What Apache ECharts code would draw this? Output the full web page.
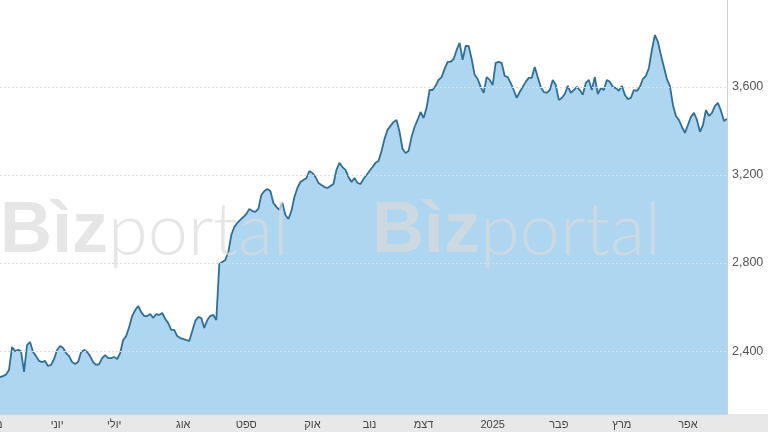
<!DOCTYPE html>
<html>
<head>
<meta charset="utf-8">
<script src="https://cdn.jsdelivr.net/npm/echarts@6/dist/echarts.min.js"></script>
<style>html,body{margin:0;padding:0;background:#fff}#c{width:768px;height:432px}</style>
</head>
<body>
<div id="c"></div>
<script>
// Daily closing values
const values = [
2282,2286,2293,2314,2418,2400,2405,2400,2305,2427,2441,2396,2377,2355,2350,2355,2332,2337,2364,2405,
2423,2414,2391,2377,2350,2341,2350,2396,2405,2396,2377,2350,2337,2341,2368,2382,2368,2368,2373,2364,
2391,2450,2468,2509,2559,2586,2605,2577,2559,2559,2568,2550,2568,2564,2573,2546,2527,2496,2496,2468,
2459,2455,2450,2446,2491,2537,2555,2550,2505,2541,2559,2564,2541,2796,2805,2814,2850,2927,2964,2982,
2996,3009,3023,3046,3036,3032,3046,3109,3127,3136,3127,3073,3055,3041,3073,3018,3000,3036,3100,3141,
3168,3177,3186,3218,3209,3191,3164,3155,3145,3141,3150,3159,3223,3255,3236,3223,3191,3168,3186,3164,
3159,3182,3200,3218,3236,3255,3264,3309,3364,3405,3423,3441,3450,3396,3318,3300,3309,3373,3418,3450,
3486,3459,3505,3586,3586,3605,3632,3645,3682,3714,3714,3727,3768,3800,3723,3786,3786,3727,3655,3636,
3600,3573,3645,3632,3609,3709,3714,3709,3650,3645,3618,3586,3550,3577,3600,3623,3641,3641,3691,3645,
3600,3577,3573,3586,3632,3609,3541,3550,3568,3605,3573,3586,3600,3586,3564,3618,3632,3586,3645,3568,
3595,3586,3632,3623,3600,3595,3582,3605,3564,3545,3550,3586,3582,3600,3636,3650,3686,3768,3836,3805,
3745,3691,3636,3605,3518,3468,3450,3418,3391,3427,3464,3482,3450,3396,3427,3495,3468,3482,3514,3527,
3491,3445,3455
];
const categories = values.map((_, i) => String(i));
// Month tick labels and the data index each one sits at
const monthLabels = ['מאי','יוני','יולי','אוג','ספט','אוק','נוב','דצמ','2025','פבר','מרץ','אפר'];
const monthIdx = [-2, 19, 38, 61, 82, 104, 123, 141, 164, 186, 207, 229];
// Y tick values
const yTicks = [2400, 2800, 3200, 3600];
const yMin = 2114, yMax = 3995;

const chart = echarts.init(document.getElementById('c'), null, {renderer: 'canvas'});
const labelColor = '#444';
const option = {
  animation: false,
  backgroundColor: '#fff',
  grid: {left: 0, right: 41, top: 0, bottom: 18, containLabel: false},
  xAxis: {
    type: 'category', data: categories, boundaryGap: false, z: 3,
    axisLine: {show: true, lineStyle: {color: '#d2d2d2', width: 1}},
    axisTick: {show: false},
    axisLabel: {
      color: labelColor, fontSize: 11, margin: 5, fontFamily: 'Liberation Sans, Arial, sans-serif',
      interval: (i) => monthIdx.indexOf(i) >= 0,
      formatter: (v, i) => { const k = monthIdx.indexOf(i); return k >= 0 ? monthLabels[k] : ''; }
    },
    splitLine: {show: false}
  },
  yAxis: {
    type: 'value', position: 'right', min: yMin, max: yMax, z: 5,
    axisLine: {show: true, lineStyle: {color: '#cfcfcf', width: 1}},
    axisTick: {show: false, customValues: yTicks},
    axisLabel: {
      customValues: yTicks, color: '#555', fontSize: 12.5, margin: 5,
      fontFamily: 'Liberation Sans, Arial, sans-serif',
      formatter: (v) => v.toLocaleString('en-US')
    },
    splitLine: {show: true, lineStyle: {color: '#dcdcdc', type: [2, 2], width: 1}}
  },
  series: [{
    type: 'line', data: values, symbol: 'none', smooth: false, z: 2,
    lineStyle: {color: '#2f6f98', width: 1.8},
    areaStyle: {color: '#afd6f0', opacity: 1}
  }],
  graphic: []
};
chart.setOption(option);

// band behind the x-axis labels + watermark + clipped first month label
const p0 = chart.convertToPixel({xAxisIndex: 0}, 0);
const p1 = chart.convertToPixel({xAxisIndex: 0}, 1);
const step = p1 - p0;
const yBase = chart.convertToPixel({yAxisIndex: 0}, yMin);
const wmFill = 'rgba(218,218,218,0.68)';
const wm = (x) => ({
  type: 'text', x: x, y: 232, z: 100, silent: true,
  style: {
    text: '{a|Bìz}{b|portal}', verticalAlign: 'middle', align: 'left',
    rich: {
      a: {fontSize: 72, fontWeight: 'bold', fontFamily: 'Liberation Sans, Arial, sans-serif', fill: wmFill},
      b: {fontSize: 72, fontWeight: 300, fontFamily: 'Lato, Liberation Sans, Arial, sans-serif', fill: wmFill}
    }
  }
});
chart.setOption({
  graphic: [
    {type: 'rect', z: -10, silent: true, shape: {x: 0, y: yBase, width: 768, height: 432 - yBase}, style: {fill: '#e8e8e8'}},
    wm(0), wm(372),
    {type: 'text', z: 10, silent: true, x: p0 + monthIdx[0] * step, y: yBase + 5,
     style: {text: monthLabels[0], fill: labelColor, fontSize: 11, align: 'center', verticalAlign: 'top',
             fontFamily: 'Liberation Sans, Arial, sans-serif'}}
  ]
});
</script>
</body>
</html>
